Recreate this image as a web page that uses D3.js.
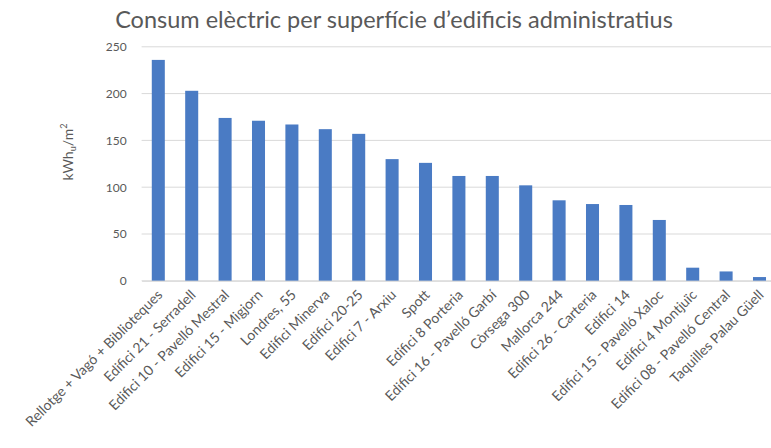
<!DOCTYPE html>
<html><head><meta charset="utf-8">
<script src="https://cdn.jsdelivr.net/npm/d3@7"></script>
<style>body{margin:0;background:#fff;}svg{display:block;font-family:Lato,"Open Sans",sans-serif;}</style>
</head><body>
<svg id="c" width="771" height="448"></svg>
<script>
const categories = ["Rellotge + Vagó + Biblioteques","Edifici 21 - Serradell","Edifici 10 - Pavelló Mestral","Edifici 15 - Migjorn","Londres, 55","Edifici Minerva","Edifici 20-25","Edifici 7 - Arxiu","Spott","Edifici 8 Porteria","Edifici 16 - Pavelló Garbí","Còrsega 300","Mallorca 244","Edifici 26 - Carteria","Edifici 14","Edifici 15 - Pavelló Xaloc","Edifici 4 Montjuïc","Edifici 08 - Pavelló Central","Taquilles Palau Güell"];
const values = [236,203,174,171,167,162,157,130,126,112,112,102,86,82,81,65,14,10,4];
const yTicks = [0,50,100,150,200,250];
const title = "Consum elèctric per superfície d’edificis administratius";

const svg = d3.select("#c");
const x = d3.scaleBand().domain(categories).range([141.6, 776.2]).paddingInner(0.61).paddingOuter(0.305);
const y = d3.scaleLinear().domain([0,250]).range([280.8, 46.8]);

svg.append("text").attr("x",394).attr("y",28).attr("text-anchor","middle")
  .attr("font-size",23.5).attr("fill","#595959").text(title);

// gridlines
svg.append("g").selectAll("line").data(yTicks).join("line")
  .attr("x1",141.6).attr("x2",771).attr("y1",d=>y(d)).attr("y2",d=>y(d))
  .attr("stroke","#d9d9d9").attr("stroke-width",1);

// y axis labels
const ya = svg.append("g").attr("transform","translate(141.6,0)")
  .call(d3.axisLeft(y).tickValues(yTicks).tickSize(0).tickPadding(15));
ya.select(".domain").remove();
ya.selectAll("text").attr("font-size",12).attr("fill","#595959").attr("font-family","Lato,'Open Sans',sans-serif");

// bars
svg.append("g").selectAll("rect").data(values).join("rect")
  .attr("x",(d,i)=>x(categories[i])).attr("width",x.bandwidth())
  .attr("y",d=>y(d)).attr("height",d=>y(0)-y(d)).attr("fill","#4a7bc4");

// x axis
const xa = svg.append("g").attr("transform",`translate(0,${y(0)})`)
  .call(d3.axisBottom(x).tickSize(0).tickPadding(0));
xa.select(".domain").attr("stroke","#d9d9d9");
xa.selectAll("text").attr("font-size",14).attr("fill","#595959").attr("font-family","Lato,'Open Sans',sans-serif")
  .attr("text-anchor","end").attr("dy",0)
  .attr("transform","translate(5,15) rotate(-45)");

// y label
svg.append("text").attr("transform","translate(73,152) rotate(-90)").attr("text-anchor","middle")
  .attr("font-size",14).attr("fill","#595959")
  .call(t=>{t.append("tspan").text("kWh");t.append("tspan").attr("font-size",9).attr("dy",3).text("u");
    t.append("tspan").attr("dy",-3).text("/m");t.append("tspan").attr("font-size",9).attr("dy",-6).text("2");});
</script>
</body></html>
